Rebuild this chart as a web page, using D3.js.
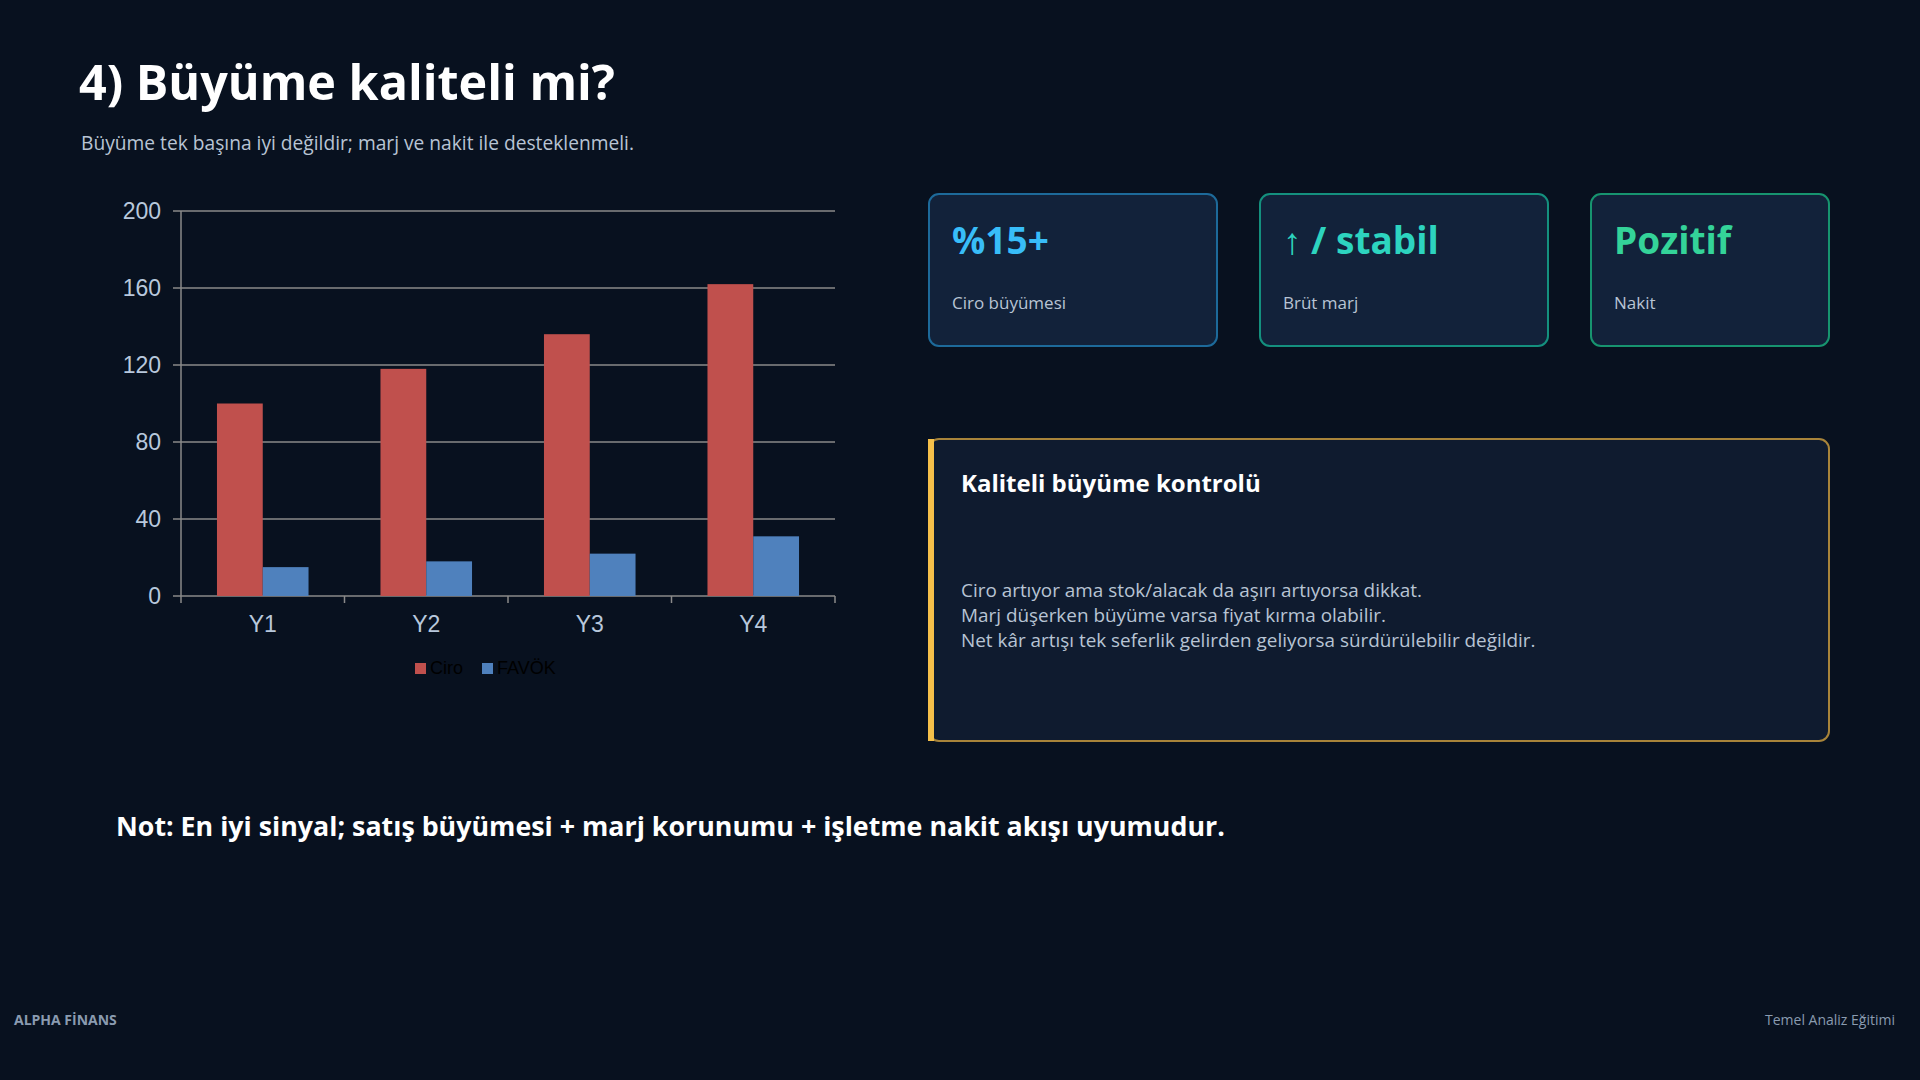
<!DOCTYPE html>
<html><head><meta charset="utf-8">
<script src="https://cdn.jsdelivr.net/npm/d3@7"></script>
<style>body{margin:0;background:#08111f;overflow:hidden}</style>
</head><body><svg id="c" width="1920" height="1080"></svg>
<script>
const categories = ["Y1","Y2","Y3","Y4"];
const seriesNames = ["Ciro","FAVÖK"];
const ciro = [100,118,136,162];
const favok = [15,18,22,31];
const yTicks = [0,40,80,120,160,200];
const seriesColors = ["#c0504d","#4f81bd"];

const svg = d3.select("#c");
svg.append("rect").attr("width",1920).attr("height",1080).attr("fill","#08111f");
const F = "'Open Sans', Roboto, sans-serif";
svg.append("text").attr("x",79).attr("y",100).attr("fill","#fff").attr("font-family",F).attr("font-weight",700).attr("font-size",48.5).text("4) Büyüme kaliteli mi?");
svg.append("text").attr("x",81).attr("y",150).attr("fill","#b8c4d4").attr("font-family",F).attr("font-size",19.2).text("Büyüme tek başına iyi değildir; marj ve nakit ile desteklenmeli.");

const L=181,R=835,T=211,B=596;
const x = d3.scaleBand().domain(categories).range([L,R]).paddingInner(0.44).paddingOuter(0.22);
const xs = d3.scaleBand().domain(seriesNames).range([0,x.bandwidth()]);
const y = d3.scaleLinear().domain([0,200]).range([B,T]);
const g = svg.append("g");
g.selectAll(".gl").data(yTicks).join("line").attr("x1",L-8).attr("x2",R).attr("y1",d=>y(d)).attr("y2",d=>y(d)).attr("stroke","#8a8a8a").attr("stroke-width",1.5);
g.append("line").attr("x1",L).attr("x2",L).attr("y1",T).attr("y2",B).attr("stroke","#8a8a8a").attr("stroke-width",1.5);
g.selectAll(".yl").data(yTicks).join("text").attr("x",161).attr("y",d=>y(d)+8).attr("text-anchor","end").attr("fill","#b8c8dc").attr("font-family","'Liberation Sans',Arial,sans-serif").attr("font-size",23).text(d=>d);
const data=[ciro,favok];
data.forEach((s,i)=>{
  g.selectAll(".b"+i).data(s).join("rect").attr("x",(d,j)=>x(categories[j])+xs(seriesNames[i])).attr("width",xs.bandwidth()).attr("y",d=>y(d)).attr("height",d=>B-y(d)).attr("fill",seriesColors[i]);
});
const step=(R-L)/categories.length;
g.selectAll(".xt").data(d3.range(categories.length+1)).join("line").attr("x1",d=>L+d*step).attr("x2",d=>L+d*step).attr("y1",B).attr("y2",B+7).attr("stroke","#8a8a8a").attr("stroke-width",1.5);
g.selectAll(".xl").data(categories).join("text").attr("x",d=>x(d)+x.bandwidth()/2).attr("y",632).attr("text-anchor","middle").attr("fill","#b8c8dc").attr("font-family","'Liberation Sans',Arial,sans-serif").attr("font-size",23).text(d=>d);
const lg=[{n:"Ciro",x:415},{n:"FAVÖK",x:482}];
lg.forEach((d,i)=>{
  svg.append("rect").attr("x",d.x).attr("y",663).attr("width",11).attr("height",11).attr("fill",seriesColors[i]);
  svg.append("text").attr("x",d.x+15).attr("y",674).attr("fill","#000").attr("font-family","'Liberation Sans',Arial,sans-serif").attr("font-size",18).text(d.n);
});

const cards=[{x:929,w:288,v:"%15+",l:"Ciro büyümesi",c:"#38bdf8",b:"#1d6a9a"},{x:1260,w:288,v:"↑ / stabil",l:"Brüt marj",c:"#2dd4bf",b:"#14907e"},{x:1591,w:238,v:"Pozitif",l:"Nakit",c:"#34d399",b:"#17946f"}];
cards.forEach(d=>{
  svg.append("rect").attr("x",d.x).attr("y",194).attr("width",d.w).attr("height",152).attr("rx",10).attr("fill","#12223a").attr("stroke",d.b).attr("stroke-width",2);
  svg.append("text").attr("x",d.x+23).attr("y",254).attr("fill",d.c).attr("font-family",F).attr("font-weight",700).attr("font-size",37).text(d.v);
  svg.append("text").attr("x",d.x+23).attr("y",309).attr("fill","#b8c4d4").attr("font-family",F).attr("font-size",17).text(d.l);
});
svg.append("rect").attr("x",929).attr("y",439).attr("width",900).attr("height",302).attr("rx",10).attr("fill","#0f1b2f").attr("stroke","#a8843a").attr("stroke-width",2);
svg.append("rect").attr("x",928).attr("y",439).attr("width",6).attr("height",302).attr("fill","#f5c04a");
svg.append("text").attr("x",961).attr("y",492).attr("fill","#fff").attr("font-family",F).attr("font-weight",700).attr("font-size",24).text("Kaliteli büyüme kontrolü");
["Ciro artıyor ama stok/alacak da aşırı artıyorsa dikkat.","Marj düşerken büyüme varsa fiyat kırma olabilir.","Net kâr artışı tek seferlik gelirden geliyorsa sürdürülebilir değildir."].forEach((t,i)=>{
  svg.append("text").attr("x",961).attr("y",597+i*25).attr("fill","#b8c4d4").attr("font-family",F).attr("font-size",18.9).text(t);
});
svg.append("text").attr("x",116).attr("y",836).attr("fill","#fff").attr("font-family",F).attr("font-weight",700).attr("font-size",26.8).text("Not: En iyi sinyal; satış büyümesi + marj korunumu + işletme nakit akışı uyumudur.");
svg.append("text").attr("x",14).attr("y",1025).attr("fill","#8a9bb0").attr("font-family",F).attr("font-weight",700).attr("font-size",14).text("ALPHA FİNANS");
svg.append("text").attr("x",1895).attr("y",1025).attr("text-anchor","end").attr("fill","#8a9bb0").attr("font-family",F).attr("font-size",14).text("Temel Analiz Eğitimi");
</script></body></html>
